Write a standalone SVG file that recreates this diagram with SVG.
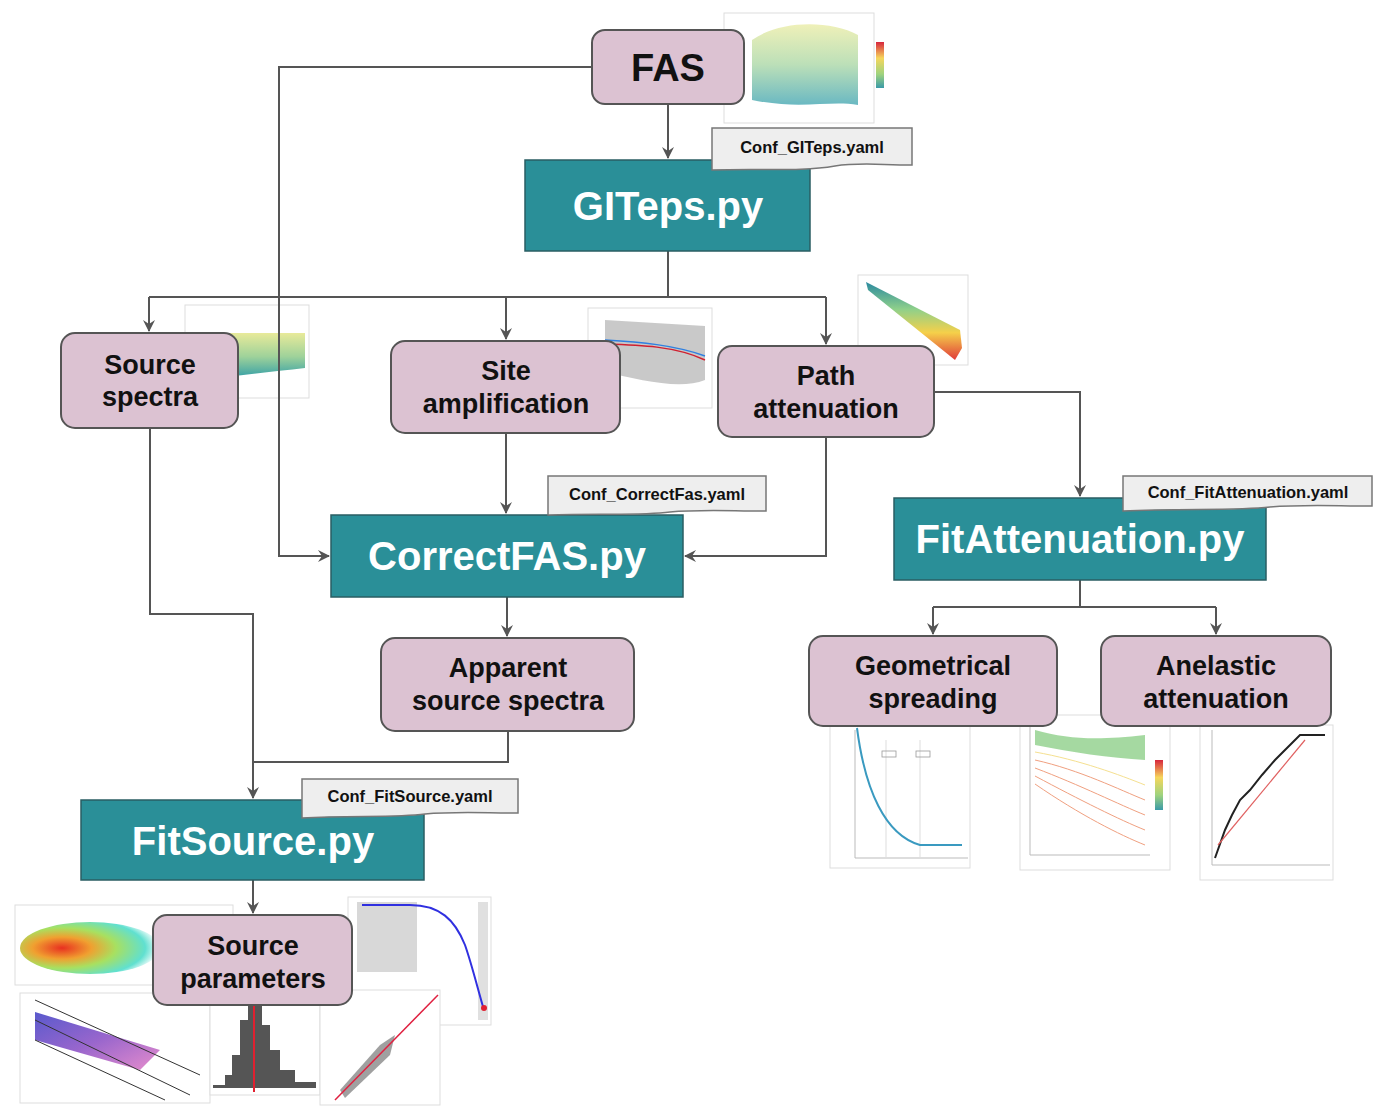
<svg xmlns="http://www.w3.org/2000/svg" width="1374" height="1106" viewBox="0 0 1374 1106">
<style>
.proc rect{fill:#dcc2d2;stroke:#555;stroke-width:2}
.prog rect{fill:#2a8f98;stroke:#2a5e63;stroke-width:1.5}
.lbl{font-family:"Liberation Sans",Arial,sans-serif;font-weight:bold;fill:#111;text-anchor:middle}
.plbl{font-family:"Liberation Sans",Arial,sans-serif;font-weight:bold;fill:#fff;text-anchor:middle}
.conf path{fill:#eeeeee;stroke:#777;stroke-width:1.5}
.ctext{font-family:"Liberation Sans",Arial,sans-serif;font-weight:bold;font-size:16.5px;fill:#111;text-anchor:middle}
.edge{fill:none;stroke:#555;stroke-width:2}
.frame{fill:#fff;stroke:#ddd;stroke-width:1}
.ax{fill:none;stroke:#bbb;stroke-width:1}
</style>
<defs>
<marker id="arr" viewBox="0 0 12 12" refX="11" refY="6" markerWidth="12" markerHeight="12" markerUnits="userSpaceOnUse" orient="auto">
<path d="M0,0 L12,6 L0,12 L4,6 z" fill="#555"/>
</marker>
<linearGradient id="ygt" x1="0" y1="0" x2="0" y2="1"><stop offset="0" stop-color="#e8ea9a"/><stop offset="0.5" stop-color="#9fd29a"/><stop offset="1" stop-color="#2a9aa8"/></linearGradient>
<linearGradient id="cbar" x1="0" y1="0" x2="0" y2="1"><stop offset="0" stop-color="#d7263d"/><stop offset="0.35" stop-color="#f6d65c"/><stop offset="0.7" stop-color="#9fd37e"/><stop offset="1" stop-color="#3a9aa8"/></linearGradient>
<linearGradient id="rainbow" x1="0" y1="1" x2="0" y2="0"><stop offset="0" stop-color="#e03a3a"/><stop offset="0.35" stop-color="#f5d04a"/><stop offset="0.65" stop-color="#8fd08a"/><stop offset="1" stop-color="#2a8aa0"/></linearGradient>
<radialGradient id="scat" cx="0.3" cy="0.5" r="0.7"><stop offset="0" stop-color="#e83020"/><stop offset="0.3" stop-color="#f0a030"/><stop offset="0.55" stop-color="#a8e060"/><stop offset="0.85" stop-color="#60e0d0"/><stop offset="1" stop-color="#60e0d0" stop-opacity="0"/></radialGradient>
<linearGradient id="purp" x1="0" y1="0" x2="1" y2="1"><stop offset="0" stop-color="#3030c0"/><stop offset="0.5" stop-color="#8040c0"/><stop offset="1" stop-color="#e070c0"/></linearGradient>
</defs>

<!-- plots (background imagery) -->
<g id="plot-fas">
<rect class="frame" x="724" y="13" width="150" height="110"/>
<path d="M752,40 C780,20 830,20 858,35 L858,105 C830,100 800,110 752,100 Z" fill="url(#ygt)" opacity="0.7"/>
<rect x="876" y="42" width="8" height="46" fill="url(#cbar)"/>
</g>
<g id="plot-source">
<rect class="frame" x="185" y="305" width="124" height="93"/>
<path d="M200,333 L305,333 L305,368 C270,372 230,376 200,380 Z" fill="url(#ygt)"/>
</g>
<g id="plot-site">
<rect class="frame" x="588" y="308" width="124" height="100"/>
<path d="M605,320 L705,326 L705,380 C680,390 640,380 605,372 Z" fill="#bbb" opacity="0.8"/>
<path d="M605,344 C640,345 675,346 705,360" fill="none" stroke="#d02030" stroke-width="1.5"/>
<path d="M605,340 C640,342 675,345 705,356" fill="none" stroke="#3080e0" stroke-width="1.5"/>
</g>
<g id="plot-path">
<rect class="frame" x="858" y="275" width="110" height="90"/>
<path d="M866,282 L960,330 L962,348 L955,360 L868,290 Z" fill="url(#rainbow)"/>
</g>
<g id="plot-geo">
<rect class="frame" x="830" y="726" width="140" height="142"/>
<path d="M855,730 V858 H968" class="ax"/>
<line x1="886" y1="740" x2="886" y2="858" stroke="#ddd"/>
<line x1="920" y1="740" x2="920" y2="858" stroke="#ddd"/>
<rect x="882" y="751" width="14" height="6" fill="none" stroke="#999" stroke-width="0.8"/>
<rect x="916" y="751" width="14" height="6" fill="none" stroke="#999" stroke-width="0.8"/>
<path d="M857,728 C865,790 885,835 920,845 L962,845" fill="none" stroke="#3a9ac0" stroke-width="2"/>
</g>
<g id="plot-anel">
<rect class="frame" x="1020" y="715" width="150" height="155"/>
<path d="M1030,720 V855 H1150" class="ax"/>
<path d="M1035,730 C1070,740 1100,740 1145,735 L1145,760 C1110,758 1070,752 1035,745 Z" fill="#8fcf8a" opacity="0.8"/>
<g fill="none" stroke-width="1" stroke="#f0a080">
<path d="M1035,760 C1080,770 1120,790 1145,800"/>
<path d="M1035,768 C1080,785 1120,805 1145,815"/>
<path d="M1035,776 C1080,800 1120,820 1145,830"/>
<path d="M1035,784 C1080,815 1120,835 1145,845"/>
<path d="M1035,752 C1080,760 1120,775 1145,785" stroke="#f5e090"/>
</g>
<rect x="1155" y="760" width="8" height="50" fill="url(#cbar)"/>
</g>
<g id="plot-q">
<rect class="frame" x="1200" y="725" width="133" height="155"/>
<path d="M1212,730 V865 H1330" class="ax"/>
<path d="M1215,858 L1225,830 L1232,815 L1240,800 L1250,790 L1262,775 L1275,760 L1290,745 L1300,735 L1325,735" fill="none" stroke="#222" stroke-width="2"/>
<path d="M1218,845 L1305,740" fill="none" stroke="#e06060" stroke-width="1.2"/>
</g>
<g id="plot-scatter">
<rect class="frame" x="15" y="905" width="218" height="80"/>
<ellipse cx="90" cy="948" rx="70" ry="26" fill="url(#scat)"/>
</g>
<g id="plot-stress">
<rect class="frame" x="20" y="993" width="190" height="110"/>
<path d="M35,1012 L160,1050 L140,1070 L35,1040 Z" fill="url(#purp)" opacity="0.8"/>
<path d="M35,1000 L200,1075 M35,1020 L190,1095 M35,1040 L165,1100" stroke="#333" stroke-width="1"/>
</g>
<g id="plot-hist">
<rect class="frame" x="210" y="990" width="110" height="105"/>
<path d="M213,1085 L225,1085 L225,1075 L232,1075 L232,1055 L240,1055 L240,1020 L248,1020 L248,1000 L262,1000 L262,1025 L270,1025 L270,1050 L280,1050 L280,1070 L295,1070 L295,1082 L316,1082 L316,1088 L213,1088 Z" fill="#555"/>
<line x1="254" y1="995" x2="254" y2="1092" stroke="#e02030" stroke-width="2"/>
</g>
<g id="plot-fc">
<rect class="frame" x="348" y="897" width="143" height="128"/>
<rect x="357" y="902" width="60" height="70" fill="#d8d8d8"/>
<rect x="478" y="902" width="10" height="118" fill="#e0e0e0"/>
<path d="M362,905 L410,905 C440,905 455,920 465,945 C472,965 478,990 484,1010" fill="none" stroke="#3030e0" stroke-width="2"/>
<circle cx="484" cy="1008" r="3" fill="#e02030"/>
</g>
<g id="plot-qq">
<rect class="frame" x="320" y="990" width="120" height="115"/>
<path d="M340,1090 L380,1045 L395,1035 L390,1055 L345,1098 Z" fill="#888" opacity="0.8"/>
<line x1="335" y1="1100" x2="438" y2="995" stroke="#e02040" stroke-width="1.5"/>
</g>

<!-- connectors -->
<g id="connectors">
<path class="edge" d="M668,104 V158" marker-end="url(#arr)"/>
<path class="edge" d="M592,67 H279 V556 H329" marker-end="url(#arr)"/>
<path class="edge" d="M668,251 V297"/>
<path class="edge" d="M149,297 H826"/>
<path class="edge" d="M149,297 V331" marker-end="url(#arr)"/>
<path class="edge" d="M506,297 V339" marker-end="url(#arr)"/>
<path class="edge" d="M826,297 V344" marker-end="url(#arr)"/>
<path class="edge" d="M506,433 V513" marker-end="url(#arr)"/>
<path class="edge" d="M826,437 V556 H685" marker-end="url(#arr)"/>
<path class="edge" d="M934,392 H1080 V496" marker-end="url(#arr)"/>
<path class="edge" d="M507,597 V636" marker-end="url(#arr)"/>
<path class="edge" d="M508,731 V762 H253"/>
<path class="edge" d="M150,428 V614 H253 V798" marker-end="url(#arr)"/>
<path class="edge" d="M253,880 V913" marker-end="url(#arr)"/>
<path class="edge" d="M1080,580 V607"/>
<path class="edge" d="M933,607 H1216"/>
<path class="edge" d="M933,607 V634" marker-end="url(#arr)"/>
<path class="edge" d="M1216,607 V634" marker-end="url(#arr)"/>
</g>

<!-- nodes -->
<g id="fas" class="proc"><rect x="592" y="30" width="152" height="74" rx="13"/><text class="lbl" x="668" y="81" font-size="38">FAS</text></g>
<g id="giteps" class="prog"><rect x="525" y="160" width="285" height="91"/><text class="plbl" x="668" y="220" font-size="40">GITeps.py</text></g>
<g id="conf-giteps" class="conf"><path d="M712,128 H912 V165 C880,165 860,162 835,166 C800,172 760,168 712,170 Z"/><text class="ctext" x="812" y="153">Conf_GITeps.yaml</text></g>

<g id="source-spectra" class="proc"><rect x="61" y="333" width="177" height="95" rx="14"/><text class="lbl" x="150" y="374" font-size="27">Source</text><text class="lbl" x="150" y="406" font-size="27">spectra</text></g>
<g id="site-amp" class="proc"><rect x="391" y="341" width="229" height="92" rx="14"/><text class="lbl" x="506" y="380" font-size="27">Site</text><text class="lbl" x="506" y="413" font-size="27">amplification</text></g>
<g id="path-att" class="proc"><rect x="718" y="346" width="216" height="91" rx="14"/><text class="lbl" x="826" y="385" font-size="27">Path</text><text class="lbl" x="826" y="418" font-size="27">attenuation</text></g>

<g id="correctfas" class="prog"><rect x="331" y="515" width="352" height="82"/><text class="plbl" x="507" y="570" font-size="40">CorrectFAS.py</text></g>
<g id="conf-correctfas" class="conf"><path d="M548,476 H766 V511 C730,511 700,509 670,512 C640,516 600,513 548,515 Z"/><text class="ctext" x="657" y="500">Conf_CorrectFas.yaml</text></g>

<g id="apparent" class="proc"><rect x="381" y="638" width="253" height="93" rx="14"/><text class="lbl" x="508" y="677" font-size="27">Apparent</text><text class="lbl" x="508" y="710" font-size="27">source spectra</text></g>

<g id="fitsource" class="prog"><rect x="81" y="800" width="343" height="80"/><text class="plbl" x="253" y="855" font-size="40">FitSource.py</text></g>
<g id="conf-fitsource" class="conf"><path d="M302,779 H518 V813 C485,813 455,811 425,814 C395,818 350,815 302,818 Z"/><text class="ctext" x="410" y="802">Conf_FitSource.yaml</text></g>

<g id="source-params" class="proc"><rect x="153" y="915" width="199" height="90" rx="14"/><text class="lbl" x="253" y="955" font-size="27">Source</text><text class="lbl" x="253" y="988" font-size="27">parameters</text></g>

<g id="fitatt" class="prog"><rect x="894" y="498" width="372" height="82"/><text class="plbl" x="1080" y="553" font-size="40">FitAttenuation.py</text></g>
<g id="conf-fitatt" class="conf"><path d="M1123,476 H1372 V506 C1335,506 1305,504 1270,507 C1235,511 1180,508 1123,511 Z"/><text class="ctext" x="1248" y="498">Conf_FitAttenuation.yaml</text></g>

<g id="geo" class="proc"><rect x="809" y="636" width="248" height="90" rx="14"/><text class="lbl" x="933" y="675" font-size="27">Geometrical</text><text class="lbl" x="933" y="708" font-size="27">spreading</text></g>
<g id="anelastic" class="proc"><rect x="1101" y="636" width="230" height="90" rx="14"/><text class="lbl" x="1216" y="675" font-size="27">Anelastic</text><text class="lbl" x="1216" y="708" font-size="27">attenuation</text></g>
</svg>
